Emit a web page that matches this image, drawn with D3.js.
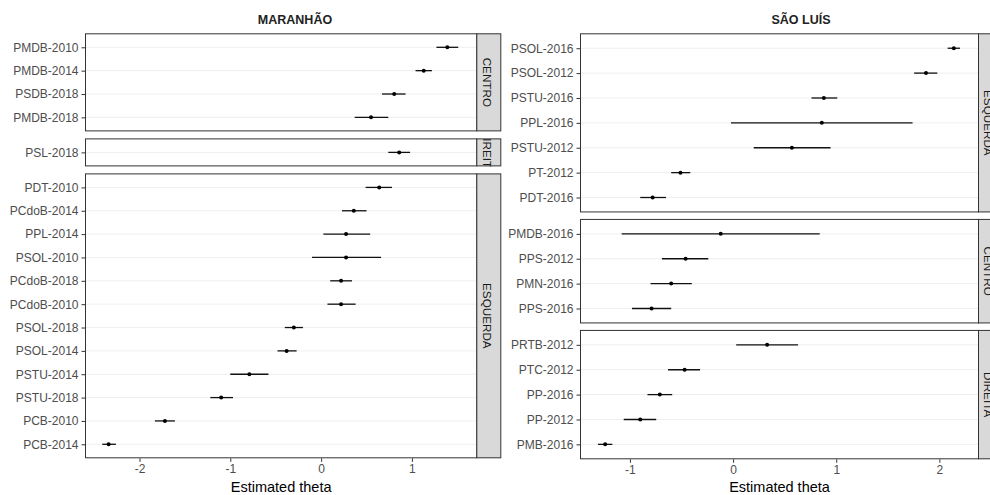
<!DOCTYPE html>
<html><head><meta charset="utf-8">
<script src="https://cdn.jsdelivr.net/npm/d3@7"></script>
<style>
html,body{margin:0;padding:0;background:#fff;}
svg{display:block;font-family:"Liberation Sans",Arial,sans-serif;}
</style></head>
<body><svg id="chart" width="990" height="495"></svg>
<script>
// ---------- DATA ----------
// MARANHÃO
const maCentroLabels = ["PMDB-2010","PMDB-2014","PSDB-2018","PMDB-2018"];
const maCentroEst    = [1.39, 1.13, 0.805, 0.55];
const maCentroLo     = [1.27, 1.04, 0.67, 0.37];
const maCentroHi     = [1.51, 1.22, 0.93, 0.74];

const maDireitaLabels = ["PSL-2018"];
const maDireitaEst    = [0.86];
const maDireitaLo     = [0.74];
const maDireitaHi     = [0.98];

const maEsquerdaLabels = ["PDT-2010","PCdoB-2014","PPL-2014","PSOL-2010","PCdoB-2018","PCdoB-2010","PSOL-2018","PSOL-2014","PSTU-2014","PSTU-2018","PCB-2010","PCB-2014"];
const maEsquerdaEst    = [0.64, 0.36, 0.275, 0.275, 0.22, 0.22, -0.30, -0.38, -0.79, -1.10, -1.72, -2.34];
const maEsquerdaLo     = [0.49, 0.23, 0.025, -0.10, 0.10, 0.07, -0.40, -0.48, -1.00, -1.22, -1.83, -2.41];
const maEsquerdaHi     = [0.78, 0.50, 0.54, 0.66, 0.34, 0.38, -0.20, -0.27, -0.58, -0.97, -1.61, -2.26];

// SÃO LUÍS
const slEsquerdaLabels = ["PSOL-2016","PSOL-2012","PSTU-2016","PPL-2016","PSTU-2012","PT-2012","PDT-2016"];
const slEsquerdaEst    = [2.14, 1.87, 0.88, 0.86, 0.57, -0.51, -0.78];
const slEsquerdaLo     = [2.08, 1.755, 0.76, -0.02, 0.20, -0.60, -0.90];
const slEsquerdaHi     = [2.20, 1.98, 1.01, 1.74, 0.945, -0.415, -0.65];

const slCentroLabels = ["PMDB-2016","PPS-2012","PMN-2016","PPS-2016"];
const slCentroEst    = [-0.12, -0.46, -0.60, -0.79];
const slCentroLo     = [-1.08, -0.69, -0.80, -0.98];
const slCentroHi     = [0.84, -0.24, -0.40, -0.60];

const slDireitaLabels = ["PRTB-2012","PTC-2012","PP-2016","PP-2012","PMB-2016"];
const slDireitaEst    = [0.33, -0.47, -0.71, -0.90, -1.24];
const slDireitaLo     = [0.03, -0.63, -0.83, -1.06, -1.31];
const slDireitaHi     = [0.63, -0.32, -0.59, -0.745, -1.17];

const leftTicks  = [-2, -1, 0, 1];
const rightTicks = [-1, 0, 1, 2];
const leftTitle  = "MARANHÃO";
const rightTitle = "SÃO LUÍS";
const xTitle     = "Estimated theta";

// ---------- DRAW ----------
const svg = d3.select("#chart");
let clipId = 0;

function mk(name, labels, est, lo, hi) {
  return {name, rows: labels.map((l, i) => ({label: l, est: est[i], lo: lo[i], hi: hi[i]}))};
}

function drawColumn(cfg) {
  const {panels, x, x0, x1, stripW, top, bottom, gap, ticks, title, titleX, textX} = cfg;
  const units = d3.sum(panels, p => p.rows.length - 1 + 1.2);
  const unit = (bottom - top - gap * (panels.length - 1)) / units;
  let yCur = top;
  panels.forEach((p, pi) => {
    const h = unit * (p.rows.length - 1 + 1.2);
    const y = d3.scalePoint().domain(p.rows.map(r => r.label)).range([yCur, yCur + h]).padding(0.6);
    const g = svg.append("g");
    g.append("rect").attr("x", x0).attr("y", yCur).attr("width", x1 - x0).attr("height", h).attr("fill", "#fff");
    // grid
    g.selectAll("line.grid").data(p.rows).join("line").attr("class", "grid")
      .attr("x1", x0).attr("x2", x1)
      .attr("y1", d => y(d.label)).attr("y2", d => y(d.label))
      .attr("stroke", "#efefef").attr("stroke-width", 1);
    // error bars
    g.selectAll("line.err").data(p.rows).join("line").attr("class", "err")
      .attr("x1", d => x(d.lo)).attr("x2", d => x(d.hi))
      .attr("y1", d => y(d.label)).attr("y2", d => y(d.label))
      .attr("stroke", "#111").attr("stroke-width", 1.3);
    g.selectAll("circle").data(p.rows).join("circle")
      .attr("cx", d => x(d.est)).attr("cy", d => y(d.label)).attr("r", 2)
      .attr("fill", "#000");
    // border
    g.append("rect").attr("x", x0 + 0.5).attr("y", yCur + 0.5).attr("width", x1 - x0 - 1).attr("height", h - 1)
      .attr("fill", "none").attr("stroke", "#333").attr("stroke-width", 1);
    // strip
    const id = "clip" + (clipId++);
    svg.append("clipPath").attr("id", id).append("rect")
      .attr("x", x1).attr("y", yCur).attr("width", stripW).attr("height", h);
    g.append("rect").attr("x", x1 - 0.5).attr("y", yCur + 0.5).attr("width", stripW).attr("height", h - 1)
      .attr("fill", "#d9d9d9").attr("stroke", "#333").attr("stroke-width", 1);
    g.append("g").attr("clip-path", `url(#${id})`).append("text")
      .attr("transform", `translate(${textX},${yCur + h / 2}) rotate(90)`)
      .attr("text-anchor", "middle").attr("dominant-baseline", "central")
      .attr("font-size", 11.7).attr("fill", "#1a1a1a").text(p.name);
    // y axis
    const ya = g.append("g").attr("transform", `translate(${x0},0)`)
      .call(d3.axisLeft(y).tickSize(3.5).tickPadding(3));
    ya.select(".domain").remove();
    ya.selectAll(".tick line").attr("stroke", "#333");
    ya.selectAll(".tick text").attr("fill", "#4d4d4d").attr("font-size", 12)
      .attr("font-family", "Liberation Sans, Arial, sans-serif");
    if (pi === panels.length - 1) {
      const xa = svg.append("g").attr("transform", `translate(0,${yCur + h})`)
        .call(d3.axisBottom(x).tickValues(ticks).tickSize(3.5).tickPadding(3)
          .tickFormat(d => d < 0 ? "-" + Math.abs(d) : String(d)));
      xa.select(".domain").remove();
      xa.selectAll(".tick line").attr("stroke", "#333");
      xa.selectAll(".tick text").attr("fill", "#4d4d4d").attr("font-size", 12)
        .attr("font-family", "Liberation Sans, Arial, sans-serif");
      svg.append("text").attr("x", (x0 + x1) / 2).attr("y", 492)
        .attr("text-anchor", "middle").attr("font-size", 14.5).attr("fill", "#000").text(xTitle);
    }
    yCur += h + gap;
  });
  svg.append("text").attr("x", titleX).attr("y", 24).attr("text-anchor", "middle")
    .attr("font-weight", "bold").attr("font-size", 12.5).attr("fill", "#222").text(title);
}

const xLeft = d3.scaleLinear().domain([-2.6, 1.72]).range([85, 477.3]);
const xRight = d3.scaleLinear().domain([-1.484, 2.384]).range([580, 979]);

drawColumn({
  panels: [mk("CENTRO", maCentroLabels, maCentroEst, maCentroLo, maCentroHi),
           mk("DIREITA", maDireitaLabels, maDireitaEst, maDireitaLo, maDireitaHi),
           mk("ESQUERDA", maEsquerdaLabels, maEsquerdaEst, maEsquerdaLo, maEsquerdaHi)],
  x: xLeft, x0: 85, x1: 477.3, stripW: 24, top: 33.3, bottom: 458.3, gap: 7,
  ticks: leftTicks, title: leftTitle, titleX: 295, textX: 487
});
drawColumn({
  panels: [mk("ESQUERDA", slEsquerdaLabels, slEsquerdaEst, slEsquerdaLo, slEsquerdaHi),
           mk("CENTRO", slCentroLabels, slCentroEst, slCentroLo, slCentroHi),
           mk("DIREITA", slDireitaLabels, slDireitaEst, slDireitaLo, slDireitaHi)],
  x: xRight, x0: 580, x1: 979, stripW: 24, top: 33.3, bottom: 459.3, gap: 6.5,
  ticks: rightTicks, title: rightTitle, titleX: 801, textX: 988
});
</script></body></html>
